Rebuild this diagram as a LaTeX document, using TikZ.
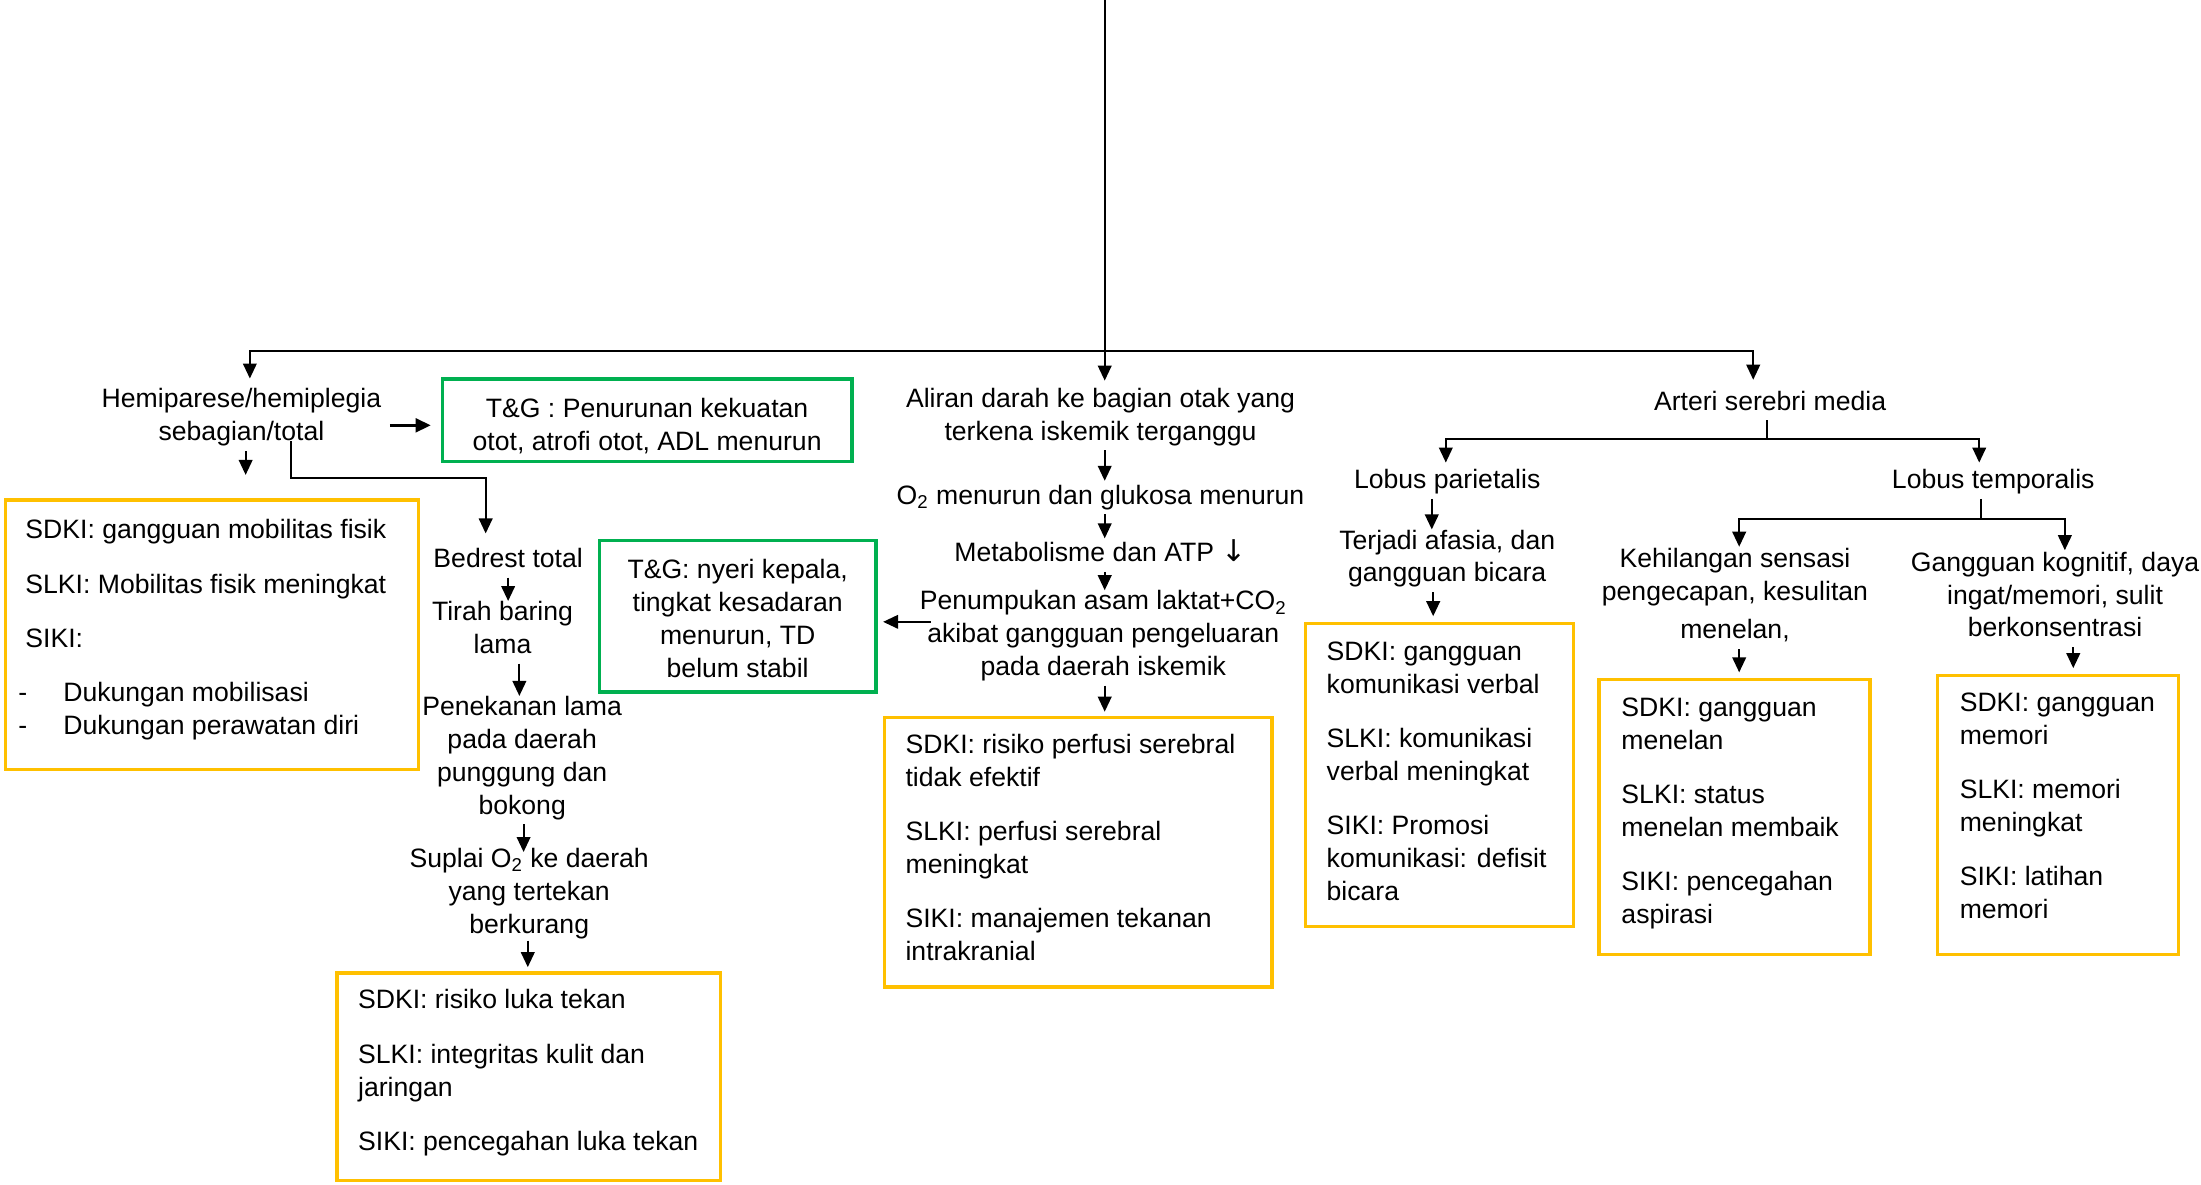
\documentclass[tikz,border=0pt]{standalone}
\usepackage{fontspec}
\setmainfont{Liberation Sans}
\newfontfamily\symfont{DejaVu Sans}
\usetikzlibrary{arrows.meta,calc}
\newdimen\un \un=0.70185pt
\def\U{0.70185pt}
\newcommand\fs{\fontsize{13.3pt}{16.4pt}\selectfont}
\definecolor{boxyellow}{HTML}{FFC000}
\definecolor{boxgreen}{HTML}{00B050}
\def\pg{\\[10.8pt]}
\newcommand\dashitem[1]{\makebox[27\un][l]{\hspace*{-5\un}-}#1}
% #1 style #2 name #3 x1 #4 y1 #5 x2 #6 y2 #7 left pad #8 top pad #9 text
\newcommand\infobox[9]{\node[#1] (#2) at (#3,#4) {\hspace*{#7\un}\parbox[c][\dimexpr #6\un-#4\un\relax][t]{\dimexpr #5\un-#3\un-#7\un\relax}{\raggedright\fs\vspace*{#8\un}\strut #9}};}
\begin{document}
\begin{tikzpicture}[x=0.70185pt, y=-0.70185pt,
  txt/.style={font=\fs, align=center, inner sep=0pt, execute at begin node=\strut, execute at end node=\strut},
  arr/.style={-{Triangle[length=7.5pt,width=6.8pt]}, line width=1pt},
  ln/.style={line width=1pt},
  ybox/.style={draw=boxyellow, line width=1.6pt, anchor=north west, inner sep=0pt},
  gbox/.style={draw=boxgreen, line width=1.6pt, font=\fs, align=center, inner sep=0pt, execute at end node=\strut}]
\useasboundingbox (0,0) rectangle (1568,844);

% text nodes
\node[txt] (hemi) at (172,298.5) {Hemiparese/hemiplegia\\sebagian/total};
\node[gbox, minimum width=292*\U, minimum height=59*\U] (tg1) at (461,299.5) {\rule{0pt}{18.9pt}T\&G : Penurunan kekuatan\\otot, atrofi otot, ADL menurun};
\node[txt] (aliran) at (784,298.5) {Aliran darah ke bagian otak yang\\terkena iskemik terganggu};
\node[txt] (arteri) at (1261,287.5) {Arteri serebri media};
\node[txt] (o2) at (784,354.5) {O\textsubscript{2} menurun dan glukosa menurun};
\node[txt] (meta) at (784,395.5) {Metabolisme dan ATP {\symfont\fontsize{15pt}{15pt}\selectfont ↓}};
\node[txt] (penum) at (786,454.5) {Penumpukan asam laktat+CO\textsubscript{2}\\akibat gangguan pengeluaran\\pada daerah iskemik};
\node[txt] (bedrest) at (362,399.5) {Bedrest total};
\node[txt] (tirah) at (358,450.5) {Tirah baring\\lama};
\node[txt] (penek) at (372,541.5) {Penekanan lama\\pada daerah\\punggung dan\\bokong};
\node[txt] (suplai) at (377,638) {Suplai O\textsubscript{2} ke daerah\\yang tertekan\\berkurang};
\node[gbox, minimum width=197*\U, minimum height=108*\U] (tg2) at (525.5,439) {\rule{0pt}{16.7pt}T\&G: nyeri kepala,\\tingkat kesadaran\\menurun, TD\\belum stabil};
\node[txt] (lobpar) at (1031,343.5) {Lobus parietalis};
\node[txt] (afasia) at (1031,399.5) {Terjadi afasia, dan\\gangguan bicara};
\node[txt] (lobtemp) at (1420,343.5) {Lobus temporalis};
\node[txt] (kehil) at (1236,426.5) {Kehilangan sensasi\\pengecapan, kesulitan\\[2.8pt]menelan,};
\node[txt] (kogn) at (1464,427) {Gangguan kognitif, daya\\ingat/memori, sulit\\berkonsentrasi};

% yellow boxes
\infobox{ybox}{sdki1}{3}{355}{297}{547}{14}{11.3}{SDKI: gangguan mobilitas fisik\pg SLKI: Mobilitas fisik meningkat\pg SIKI:\pg \dashitem{Dukungan mobilisasi}\\\dashitem{Dukungan perawatan diri}}
\infobox{ybox}{sdki2}{239}{692}{512}{840}{15}{9.3}{SDKI: risiko luka tekan\pg SLKI: integritas kulit dan\\jaringan\pg SIKI: pencegahan luka tekan}
\infobox{ybox}{sdki3}{629}{510}{905}{702}{15}{9.3}{SDKI: risiko perfusi serebral\\tidak efektif\pg SLKI: perfusi serebral\\meningkat\pg SIKI: manajemen tekanan\\intrakranial}
\infobox{ybox}{sdki4}{929}{443}{1120}{659}{15}{10}{SDKI: gangguan\\komunikasi verbal\pg SLKI: komunikasi\\verbal meningkat\pg SIKI: Promosi\\komunikasi: defisit\\bicara}
\infobox{ybox}{sdki5}{1138}{483}{1331}{679}{16}{10}{SDKI: gangguan\\menelan\pg SLKI: status\\menelan membaik\pg SIKI: pencegahan\\aspirasi}
\infobox{ybox}{sdki6}{1379}{480}{1551}{679}{16}{9.3}{SDKI: gangguan\\memori\pg SLKI: memori\\meningkat\pg SIKI: latihan\\memori}

% connectors
\coordinate (top) at (787,0);
\coordinate (bus) at (787,250);
\draw[ln] (top) -- (bus);
\draw[arr] (bus) -| ($(hemi.north)+(6,-6.5)$);
\draw[arr] (bus) -- ($(bus |- aliran.north)+(0,-5)$);
\draw[arr] (bus) -| ($(arteri.north)+(-12,-5)$);
\draw[arr, line width=1.5pt] ($(hemi.east)+(6,4.5)$) -- ($(tg1.west)+(-7,3.5)$);
\draw[arr] ($(hemi.south)+(3,0.5)$) -- ++(0,17);
\draw[arr] ($(hemi.south)+(35,-6.5)$) -- ++(0,26) -| ($(bedrest.north)+(-16,-7.5)$);
\draw[arr] (bedrest.south) -- (bedrest.south |- tirah.north);
\draw[arr] ($(tirah.south)+(12,0)$) -- ($(tirah.south |- penek.north)+(12,0)$);
\draw[arr] ($(penek.south)+(1,0)$) -- ($(penek.south |- suplai.north)+(1,3)$);
\draw[arr] ($(suplai.south)+(-1,-2)$) -- ($(suplai.south |- sdki2.north)+(-1,-3)$);
\draw[arr] (aliran.south -| bus) -- (o2.north -| bus);
\draw[arr] (o2.south -| bus) -- (meta.north -| bus);
\draw[arr] (meta.south -| bus) -- (penum.north -| bus);
\draw[arr] (penum.south -| bus) -- ($(sdki3.north -| bus)+(0,-3)$);
\draw[arr] ($(tg2.east)+(38,4)$) -- ($(tg2.east)+(4,4)$);
\draw[ln] ($(arteri.south)+(-2,0)$) -- ++(0,13.5) coordinate (abus);
\draw[arr] (abus) -| ($(lobpar.north)+(-1,-2)$);
\draw[arr] (abus) -| ($(lobtemp.north)+(-10,-2)$);
\draw[arr] ($(lobpar.south)+(-11,0)$) -- ($(lobpar.south |- afasia.north)+(-11,0)$);
\draw[arr] ($(afasia.south)+(-10,0)$) -- ($(afasia.south |- sdki4.north)+(-10,-4)$);
\draw[ln] ($(lobtemp.south)+(-9,0)$) -- ++(0,14.5) coordinate (tbus);
\draw[arr] (tbus) -| ($(kehil.north)+(3,-1)$);
\draw[arr] (tbus) -| ($(kogn.north)+(7,-1)$);
\draw[arr] ($(kehil.south)+(3,0)$) -- ($(kehil.south |- sdki5.north)+(3,-4)$);
\draw[arr] ($(kogn.south)+(13,0)$) -- ($(kogn.south |- sdki6.north)+(13,-4)$);
\end{tikzpicture}
\end{document}
